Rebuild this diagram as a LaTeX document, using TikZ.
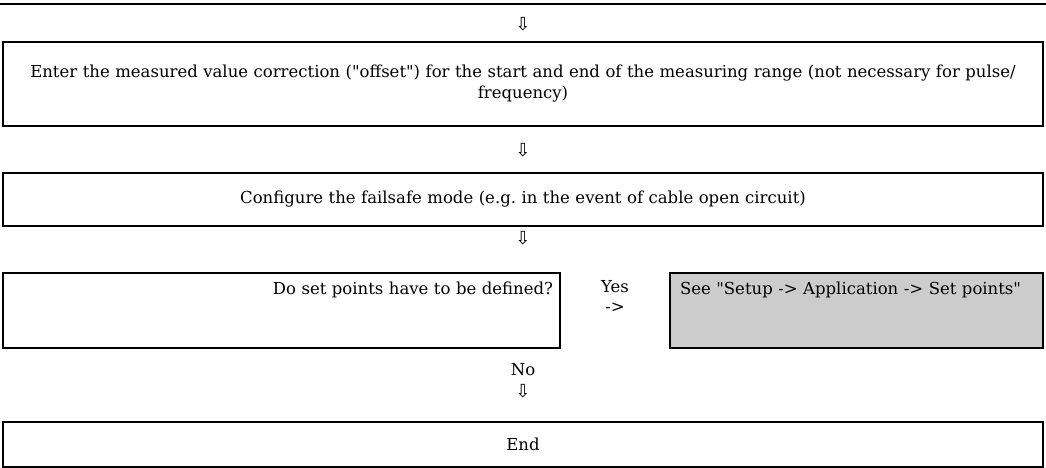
\documentclass[tikz,border=0pt]{standalone}
\usepackage{fontspec}
\newfontfamily\boxfont{DejaVu Serif}
\newfontfamily\arrowfont{DejaVu Sans}
\definecolor{fcGrey}{RGB}{204,204,204}
\usetikzlibrary{positioning}

\begin{document}
\frenchspacing
\begin{tikzpicture}[x=1pt,y=-1pt,
    stepbox/.style={draw, line width=2pt, inner sep=0pt, font=\boxfont\fontsize{16.5}{21}\selectfont},
    downsign/.style={font=\arrowfont\fontsize{18}{18}\selectfont, inner sep=0pt},
    answer/.style={font=\boxfont\fontsize{16.5}{21}\selectfont, inner sep=0pt}]
    \useasboundingbox (0,0) rectangle (1046,468);

    % end of the previous step
    \draw[line width=2.5pt] (0,4) -- (1046,4);
    \node[downsign] (d1) at (523,24) {⇩};

    % offset correction
    \node[stepbox, minimum width=1040pt, minimum height=84pt, text width=1030pt, align=center] (offset) at (523,84)
        {Enter the measured value correction ("offset") for the start and end of the measuring range (not necessary for pulse/\\frequency)};
    \node[downsign] (d2) at (523,150) {⇩};

    % failsafe mode
    \node[stepbox, minimum width=1040pt, minimum height=53pt, text width=1030pt, align=center] (failsafe) at (523,199.5)
        {Configure the failsafe mode (e.g. in the event of cable open circuit)};
    \node[downsign] (d3) at (523,238) {⇩};

    % set points question, text at the top of the box
    \node[stepbox, minimum width=557pt, text width=543pt, align=right, text height=21pt, text depth=54pt] (question) at (281.5,272) [anchor=north]
        {Do set points have to be defined?};
    \node[answer] (yes) at (615,287) {Yes};
    \node[answer] (yesarrow) at (615,308) {->};
    \node[stepbox, fill=fcGrey, minimum width=373pt, text width=353pt, align=left, text height=21pt, text depth=54pt] (setpoints) at (856.5,272) [anchor=north]
        {See "Setup -> Application -> Set points"};

    % no set points
    \node[answer] (no) at (523,370) {No};
    \node[downsign] (d4) at (523,391) {⇩};
    \node[stepbox, minimum width=1040pt, minimum height=45pt] (finish) at (523,444.5) {End};
\end{tikzpicture}
\end{document}
